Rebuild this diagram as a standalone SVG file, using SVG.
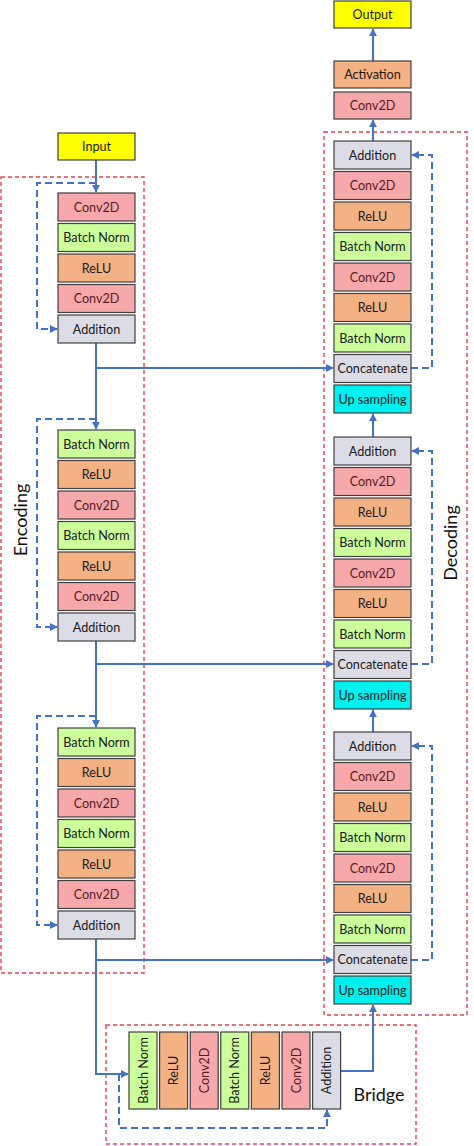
<svg xmlns="http://www.w3.org/2000/svg" width="474" height="1146" viewBox="0 0 474 1146">
<style>
.b{stroke:#404040;stroke-width:1.2}
.io{fill:#FFFF00}
.cv{fill:#F6A8AB}
.bn{fill:#CCFF99}
.re{fill:#F4B183}
.ad{fill:#DCDCE6}
.up{fill:#00F0F0}
text{font-family:Lato,"Noto Sans","Liberation Sans",sans-serif;font-size:12.6px;fill:#1a1a1a;text-anchor:middle;dominant-baseline:central}
.tcv{fill:#5a1c22}
.big{font-size:18px;fill:#111}
.reg{fill:none;stroke:#E8404E;stroke-width:1.4;stroke-dasharray:4 3}
.ln{fill:none;stroke:#4472C4;stroke-width:2}
.ds{fill:none;stroke:#4472C4;stroke-width:2;stroke-dasharray:7 4}
</style>
<defs>
<marker id="ah" viewBox="0 0 10 10" refX="9" refY="5" markerWidth="4" markerHeight="4" orient="auto" markerUnits="strokeWidth">
<path d="M0,0 L10,5 L0,10 z" fill="#4472C4"/>
</marker>
</defs>

<g id="regions">
<rect class="reg" x="1" y="177" width="143" height="796"/>
<rect class="reg" x="324" y="132" width="143" height="883"/>
<rect class="reg" x="106" y="1025" width="310" height="119"/>
<text class="big" transform="translate(20,520) rotate(-90)">Encoding</text>
<text class="big" transform="translate(450,543) rotate(-90)">Decoding</text>
<text class="big" x="379" y="1094">Bridge</text>
</g>

<g id="connectors">
<line class="ln" x1="96" y1="160" x2="96" y2="192" marker-end="url(#ah)"/>
<path class="ds" d="M96,183 H37 V329 H57" marker-end="url(#ah)"/>
<line class="ln" x1="96" y1="343" x2="96" y2="429" marker-end="url(#ah)"/>
<line class="ln" x1="96" y1="368" x2="333" y2="368" marker-end="url(#ah)"/>
<path class="ds" d="M96,419 H37 V627 H57" marker-end="url(#ah)"/>
<line class="ln" x1="96" y1="641" x2="96" y2="727" marker-end="url(#ah)"/>
<line class="ln" x1="96" y1="664" x2="333" y2="664" marker-end="url(#ah)"/>
<path class="ds" d="M96,716 H37 V925 H57" marker-end="url(#ah)"/>
<path class="ln" d="M96,939 V1074 H128" marker-end="url(#ah)"/>
<line class="ln" x1="96" y1="960" x2="333" y2="960" marker-end="url(#ah)"/>
<path class="ds" d="M119,1074 V1128 H327 V1110" marker-end="url(#ah)"/>
<path class="ln" d="M341,1071 H373 V1005" marker-end="url(#ah)"/>
<path class="ds" d="M411,368 H432 V155 H412" marker-end="url(#ah)"/>
<path class="ds" d="M411,664 H432 V451 H412" marker-end="url(#ah)"/>
<path class="ds" d="M411,960 H432 V746 H412" marker-end="url(#ah)"/>
<line class="ln" x1="373" y1="437" x2="373" y2="414" marker-end="url(#ah)"/>
<line class="ln" x1="373" y1="732" x2="373" y2="710" marker-end="url(#ah)"/>
<line class="ln" x1="373" y1="141" x2="373" y2="120" marker-end="url(#ah)"/>
<line class="ln" x1="373" y1="61" x2="373" y2="29" marker-end="url(#ah)"/>
</g>

<g id="input"><rect class="b io" x="58" y="133" width="77" height="27"/><text x="96.5" y="146.5">Input</text></g>
<g id="output"><rect class="b io" x="334" y="1" width="77" height="27"/><text x="372.5" y="14.5">Output</text></g>
<g id="activation"><rect class="b re" x="334" y="61" width="77" height="27"/><text x="372.5" y="74.5">Activation</text></g>
<g id="final-conv"><rect class="b cv" x="334" y="92" width="77" height="27"/><text class="tcv" x="372.5" y="105.5">Conv2D</text></g>

<g id="enc1">
<rect class="b cv" x="58" y="193" width="77" height="28"/><text class="tcv" x="96.5" y="207">Conv2D</text>
<rect class="b bn" x="58" y="223.5" width="77" height="28"/><text x="96.5" y="237.5">Batch Norm</text>
<rect class="b re" x="58" y="254" width="77" height="28"/><text x="96.5" y="268">ReLU</text>
<rect class="b cv" x="58" y="284.5" width="77" height="28"/><text class="tcv" x="96.5" y="298.5">Conv2D</text>
<rect class="b ad" x="58" y="315" width="77" height="28"/><text x="96.5" y="329">Addition</text>
</g>

<g id="enc2">
<rect class="b bn" x="58" y="430" width="77" height="28"/><text x="96.5" y="444">Batch Norm</text>
<rect class="b re" x="58" y="460.5" width="77" height="28"/><text x="96.5" y="474.5">ReLU</text>
<rect class="b cv" x="58" y="491" width="77" height="28"/><text class="tcv" x="96.5" y="505">Conv2D</text>
<rect class="b bn" x="58" y="521.5" width="77" height="28"/><text x="96.5" y="535.5">Batch Norm</text>
<rect class="b re" x="58" y="552" width="77" height="28"/><text x="96.5" y="566">ReLU</text>
<rect class="b cv" x="58" y="582.5" width="77" height="28"/><text class="tcv" x="96.5" y="596.5">Conv2D</text>
<rect class="b ad" x="58" y="613" width="77" height="28"/><text x="96.5" y="627">Addition</text>
</g>

<g id="enc3">
<rect class="b bn" x="58" y="728" width="77" height="28"/><text x="96.5" y="742">Batch Norm</text>
<rect class="b re" x="58" y="758.5" width="77" height="28"/><text x="96.5" y="772.5">ReLU</text>
<rect class="b cv" x="58" y="789" width="77" height="28"/><text class="tcv" x="96.5" y="803">Conv2D</text>
<rect class="b bn" x="58" y="819.5" width="77" height="28"/><text x="96.5" y="833.5">Batch Norm</text>
<rect class="b re" x="58" y="850" width="77" height="28"/><text x="96.5" y="864">ReLU</text>
<rect class="b cv" x="58" y="880.5" width="77" height="28"/><text class="tcv" x="96.5" y="894.5">Conv2D</text>
<rect class="b ad" x="58" y="911" width="77" height="28"/><text x="96.5" y="925">Addition</text>
</g>

<g id="dec1">
<rect class="b ad" x="334" y="141" width="77" height="28"/><text x="372.5" y="155">Addition</text>
<rect class="b cv" x="334" y="171.5" width="77" height="28"/><text class="tcv" x="372.5" y="185.5">Conv2D</text>
<rect class="b re" x="334" y="202" width="77" height="28"/><text x="372.5" y="216">ReLU</text>
<rect class="b bn" x="334" y="232.5" width="77" height="28"/><text x="372.5" y="246.5">Batch Norm</text>
<rect class="b cv" x="334" y="263" width="77" height="28"/><text class="tcv" x="372.5" y="277">Conv2D</text>
<rect class="b re" x="334" y="293.5" width="77" height="28"/><text x="372.5" y="307.5">ReLU</text>
<rect class="b bn" x="334" y="324" width="77" height="28"/><text x="372.5" y="338">Batch Norm</text>
<rect class="b ad" x="334" y="354.5" width="77" height="28"/><text x="372.5" y="368.5">Concatenate</text>
<rect class="b up" x="334" y="385" width="77" height="28"/><text x="372.5" y="399">Up sampling</text>
</g>

<g id="dec2">
<rect class="b ad" x="334" y="437" width="77" height="28"/><text x="372.5" y="451">Addition</text>
<rect class="b cv" x="334" y="467.5" width="77" height="28"/><text class="tcv" x="372.5" y="481.5">Conv2D</text>
<rect class="b re" x="334" y="498" width="77" height="28"/><text x="372.5" y="512">ReLU</text>
<rect class="b bn" x="334" y="528.5" width="77" height="28"/><text x="372.5" y="542.5">Batch Norm</text>
<rect class="b cv" x="334" y="559" width="77" height="28"/><text class="tcv" x="372.5" y="573">Conv2D</text>
<rect class="b re" x="334" y="589.5" width="77" height="28"/><text x="372.5" y="603.5">ReLU</text>
<rect class="b bn" x="334" y="620" width="77" height="28"/><text x="372.5" y="634">Batch Norm</text>
<rect class="b ad" x="334" y="650.5" width="77" height="28"/><text x="372.5" y="664.5">Concatenate</text>
<rect class="b up" x="334" y="681" width="77" height="28"/><text x="372.5" y="695">Up sampling</text>
</g>

<g id="dec3">
<rect class="b ad" x="334" y="732" width="77" height="28"/><text x="372.5" y="746">Addition</text>
<rect class="b cv" x="334" y="762.5" width="77" height="28"/><text class="tcv" x="372.5" y="776.5">Conv2D</text>
<rect class="b re" x="334" y="793" width="77" height="28"/><text x="372.5" y="807">ReLU</text>
<rect class="b bn" x="334" y="823.5" width="77" height="28"/><text x="372.5" y="837.5">Batch Norm</text>
<rect class="b cv" x="334" y="854" width="77" height="28"/><text class="tcv" x="372.5" y="868">Conv2D</text>
<rect class="b re" x="334" y="884.5" width="77" height="28"/><text x="372.5" y="898.5">ReLU</text>
<rect class="b bn" x="334" y="915" width="77" height="28"/><text x="372.5" y="929">Batch Norm</text>
<rect class="b ad" x="334" y="945.5" width="77" height="28"/><text x="372.5" y="959.5">Concatenate</text>
<rect class="b up" x="334" y="976" width="77" height="28"/><text x="372.5" y="990">Up sampling</text>
</g>

<g id="bridge">
<rect class="b bn" x="129" y="1032" width="28" height="77"/><text transform="translate(143,1070.5) rotate(-90)">Batch Norm</text>
<rect class="b re" x="159.6" y="1032" width="28" height="77"/><text transform="translate(173.6,1070.5) rotate(-90)">ReLU</text>
<rect class="b cv" x="190.2" y="1032" width="28" height="77"/><text class="tcv" transform="translate(204.2,1070.5) rotate(-90)">Conv2D</text>
<rect class="b bn" x="220.8" y="1032" width="28" height="77"/><text transform="translate(234.8,1070.5) rotate(-90)">Batch Norm</text>
<rect class="b re" x="251.4" y="1032" width="28" height="77"/><text transform="translate(265.4,1070.5) rotate(-90)">ReLU</text>
<rect class="b cv" x="282" y="1032" width="28" height="77"/><text class="tcv" transform="translate(296,1070.5) rotate(-90)">Conv2D</text>
<rect class="b ad" x="312.6" y="1032" width="28" height="77"/><text transform="translate(326.6,1070.5) rotate(-90)">Addition</text>
</g>
</svg>
